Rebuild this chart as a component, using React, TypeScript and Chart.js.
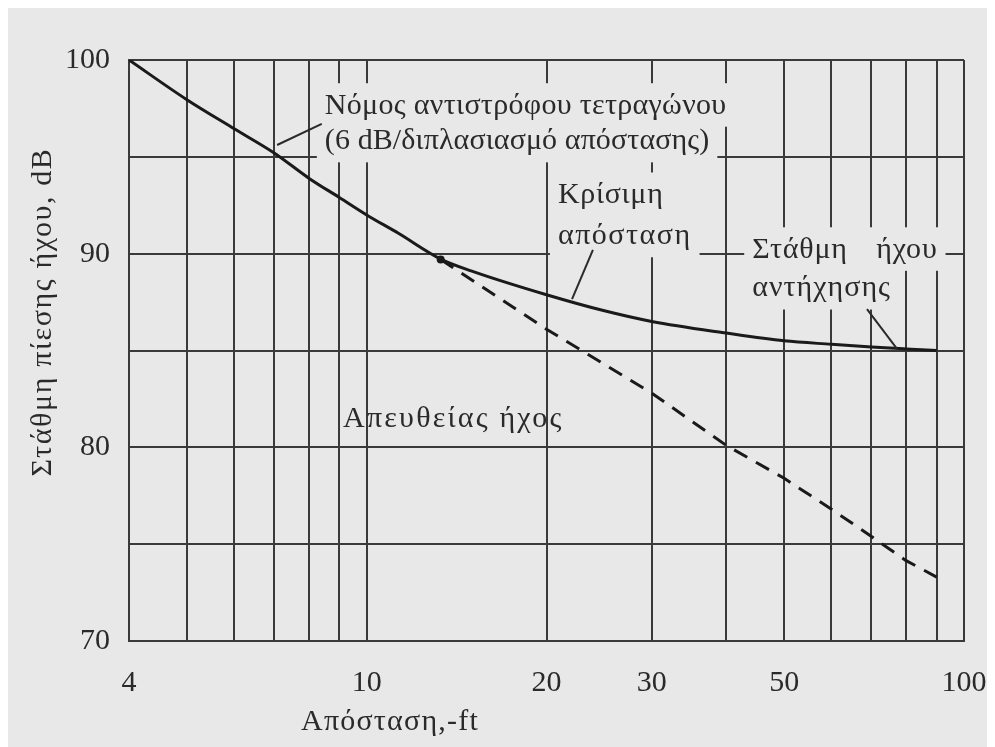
import React, { useEffect, useRef } from "react";
import { Chart, registerables } from "chart.js";

Chart.register(...registerables);

// ---- data ----
const gridDistances = [4, 5, 6, 7, 8, 9, 10, 20, 30, 40, 50, 60, 70, 80, 90, 100];
const labeledDistances = [4, 10, 20, 30, 50, 100];
const yGridLevels = [70, 75, 80, 85, 90, 95, 100];
const yLabeledLevels = [70, 80, 90, 100];

// total (solid) curve: direct + reverberant
const totalDistance = [4, 5, 6, 7, 8, 9, 10, 11.3, 13.3, 15, 20, 25, 30, 40, 50, 60, 70, 80, 90];
const totalLevel = [100, 97.95, 96.45, 95.2, 93.9, 92.9, 92.0, 91.05, 89.72, 89.1, 87.88, 87.05, 86.5, 85.9, 85.5, 85.32, 85.18, 85.08, 85.0];

// direct sound (dashed) beyond the critical distance
const directDistance = [13.3, 20, 30, 40, 50, 60, 70, 80, 90];
const directLevel = [89.7, 86.1, 82.8, 80.1, 78.4, 76.8, 75.4, 74.15, 73.3];

const criticalDistance = [13.3];
const criticalLevel = [89.7];

const annotationTexts = [
  "Νόμος αντιστρόφου τετραγώνου",
  "(6 dB/διπλασιασμό απόστασης)",
  "Κρίσιμη",
  "απόσταση",
  "Στάθμη ήχου",
  "αντήχησης",
  "Απευθείας ήχος",
];
const annotationDistance = [8.51, 8.51, 20.9, 20.9, 44.2, 44.2, 9.13];
const annotationLevel = [97.64, 95.8, 93.03, 90.9, 90.2, 88.2, 81.47];

// leader lines [from, to]
const leaderFromDistance = [7.08, 22.07, 68.8];
const leaderFromLevel = [95.61, 87.65, 87.14];
const leaderToDistance = [8.41, 23.92, 77.2];
const leaderToLevel = [96.7, 90.2, 85.1];

const xAxisTitle = "Απόσταση,-ft";
const yAxisTitle = "Στάθμη πίεσης ήχου, dB";

// ---- styles ----
const BG = "#e8e8e8";
const INK = "#2a2a2a";
const GRID = "#3a3a3a";
const FAMILY = "'Liberation Serif', 'DejaVu Serif', serif";
const FS = 30;
const annLetterSpacing = [0.3, 0.1, 0.7, 1.5, 0.8, 1, 2.2];
const annWordSpacing = [0, 0, 0, 0, 20, 0, 0];
const annHasBox = [true, true, true, true, true, true, false];

function setSpacing(ctx: any, ls: number, ws: number) {
  ctx.letterSpacing = `${ls}px`;
  ctx.wordSpacing = `${ws}px`;
}

const annotationPlugin = {
  id: "annotationPlugin",
  beforeDatasetsDraw(chart: any) {
    const { ctx, scales } = chart;
    const xs = scales.x;
    const ys = scales.y;
    ctx.save();
    ctx.font = `${FS}px ${FAMILY}`;
    ctx.fillStyle = BG;
    annotationTexts.forEach((t, i) => {
      if (!annHasBox[i]) return;
      setSpacing(ctx, annLetterSpacing[i], annWordSpacing[i]);
      const px = xs.getPixelForValue(annotationDistance[i]);
      const py = ys.getPixelForValue(annotationLevel[i]);
      const w = ctx.measureText(t).width;
      ctx.fillRect(px - 8, py - FS * 0.55 - 6, w + 16, FS * 1.05 + 12);
    });
    ctx.restore();
  },
  afterDatasetsDraw(chart: any) {
    const { ctx, scales, chartArea } = chart;
    const xs = scales.x;
    const ys = scales.y;
    ctx.save();
    // leaders
    ctx.strokeStyle = INK;
    ctx.lineWidth = 2;
    leaderFromDistance.forEach((d, i) => {
      ctx.beginPath();
      ctx.moveTo(xs.getPixelForValue(d), ys.getPixelForValue(leaderFromLevel[i]));
      ctx.lineTo(xs.getPixelForValue(leaderToDistance[i]), ys.getPixelForValue(leaderToLevel[i]));
      ctx.stroke();
    });
    // texts
    ctx.font = `${FS}px ${FAMILY}`;
    ctx.fillStyle = INK;
    ctx.textAlign = "left";
    ctx.textBaseline = "middle";
    annotationTexts.forEach((t, i) => {
      setSpacing(ctx, annLetterSpacing[i], annWordSpacing[i]);
      ctx.fillText(t, xs.getPixelForValue(annotationDistance[i]), ys.getPixelForValue(annotationLevel[i]));
    });
    // axis titles
    ctx.textAlign = "center";
    setSpacing(ctx, 1.2, 0);
    ctx.fillText(xAxisTitle, chartArea.left + 261, chartArea.bottom + 81);
    setSpacing(ctx, 1.6, 0);
    ctx.translate(chartArea.left - 86, chartArea.top + 252);
    ctx.rotate(-Math.PI / 2);
    ctx.fillText(yAxisTitle, 0, 0);
    ctx.restore();
  },
};

export default function App() {
  const ref = useRef<HTMLCanvasElement>(null);
  useEffect(() => {
    const tickFont = { family: FAMILY, size: FS };
    const chart = new Chart(ref.current as HTMLCanvasElement, {
      type: "line",
      data: {
        datasets: [
          {
            label: "total",
            data: totalDistance.map((d, i) => ({ x: d, y: totalLevel[i] })),
            borderColor: "#1a1a1a",
            borderWidth: 3,
            pointRadius: 0,
            cubicInterpolationMode: "monotone",
            fill: false,
          },
          {
            label: "direct",
            data: directDistance.map((d, i) => ({ x: d, y: directLevel[i] })),
            borderColor: "#1a1a1a",
            borderWidth: 3,
            borderDash: [15, 10],
            pointRadius: 0,
            tension: 0,
            fill: false,
          },
          {
            label: "critical",
            data: criticalDistance.map((d, i) => ({ x: d, y: criticalLevel[i] })),
            showLine: false,
            pointRadius: 4,
            pointBackgroundColor: "#1a1a1a",
            pointBorderWidth: 0,
          },
        ],
      } as any,
      options: {
        responsive: false,
        maintainAspectRatio: false,
        animation: false,
        layout: { padding: { top: 52, right: 29, left: 0, bottom: 0 } },
        plugins: { legend: { display: false }, tooltip: { enabled: false } },
        scales: {
          x: {
            type: "logarithmic",
            min: 4,
            max: 100,
            afterBuildTicks: (s: any) => {
              s.ticks = gridDistances.map((v) => ({ value: v }));
            },
            afterFit: (s: any) => {
              s.height = 106;
              s.paddingLeft = 0;
              s.paddingRight = 0;
            },
            ticks: {
              autoSkip: false,
              maxRotation: 0,
              padding: 24,
              color: INK,
              font: tickFont,
              callback: (v: any) => (labeledDistances.includes(Number(v)) ? String(v) : ""),
            },
            grid: { color: GRID, lineWidth: 2, drawTicks: false },
            border: { color: GRID, width: 2 },
          },
          y: {
            type: "linear",
            min: 70,
            max: 100,
            afterBuildTicks: (s: any) => {
              s.ticks = yGridLevels.map((v) => ({ value: v }));
            },
            afterFit: (s: any) => {
              s.width = 121;
              s.paddingTop = 0;
              s.paddingBottom = 0;
            },
            ticks: {
              padding: 19,
              color: INK,
              font: tickFont,
              callback: (v: any) => (yLabeledLevels.includes(Number(v)) ? String(v) : ""),
            },
            grid: { color: GRID, lineWidth: 2, drawTicks: false },
            border: { color: GRID, width: 2 },
          },
        },
      } as any,
      plugins: [annotationPlugin],
    });
    return () => chart.destroy();
  }, []);
  return (
    <div style={{ width: 985, height: 739, background: BG }}>
      <canvas ref={ref} width={985} height={739} style={{ display: "block" }} />
    </div>
  );
}
